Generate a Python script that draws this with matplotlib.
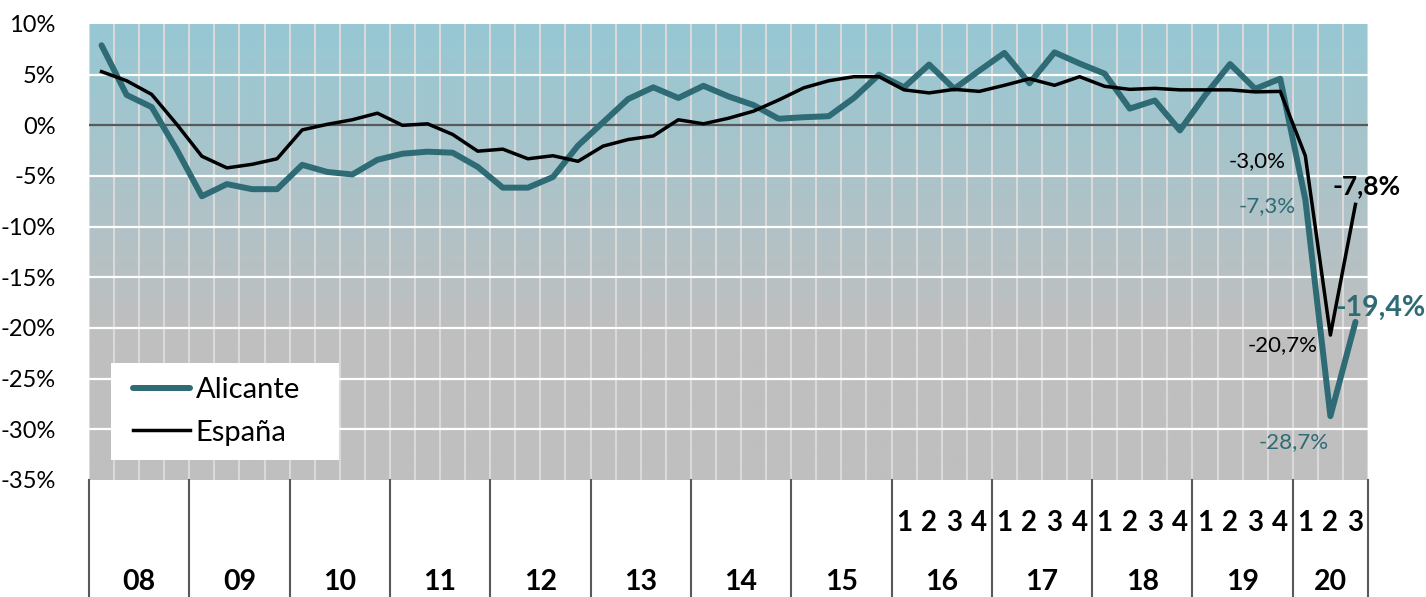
import numpy as np
import matplotlib
matplotlib.use('Agg')
from matplotlib import pyplot as plt
from matplotlib import transforms
from matplotlib.patches import Rectangle

plt.rcParams['font.family'] = ['Lato', 'DejaVu Sans']

# data (quarterly, 2008 Q1 - 2020 Q3), % change
years = ['08', '09', '10', '11', '12', '13', '14', '15', '16', '17', '18', '19', '20']
quarters_per_year = [4, 4, 4, 4, 4, 4, 4, 4, 4, 4, 4, 4, 3]
show_quarter_numbers = ['16', '17', '18', '19', '20']

alicante = [7.9, 3.0, 1.8, -2.4,
            -7.0, -5.8, -6.3, -6.3,
            -3.9, -4.6, -4.85, -3.4,
            -2.8, -2.6, -2.7, -4.1,
            -6.15, -6.15, -5.1, -2.0,
            0.3, 2.6, 3.75, 2.7,
            3.9, 2.85, 2.0, 0.65,
            0.8, 0.9, 2.7, 5.0,
            3.75, 6.0, 3.6, 5.4,
            7.15, 4.15, 7.2, 6.1,
            5.1, 1.65, 2.45, -0.5,
            2.95, 6.05, 3.6, 4.6,
            -7.3, -28.7, -19.4]

espana = [5.3, 4.4, 3.05, 0.1,
          -3.05, -4.2, -3.85, -3.3,
          -0.45, 0.1, 0.55, 1.2,
          0.0, 0.15, -0.9, -2.55,
          -2.35, -3.3, -3.0, -3.55,
          -2.05, -1.4, -1.05, 0.55,
          0.15, 0.7, 1.4, 2.5,
          3.7, 4.4, 4.8, 4.8,
          3.5, 3.2, 3.55, 3.35,
          3.95, 4.6, 3.95, 4.8,
          3.85, 3.55, 3.65, 3.5,
          3.5, 3.5, 3.3, 3.35,
          -3.0, -20.7, -7.8]

teal = '#2E6B75'
n = len(alicante)
x = np.arange(n)

fig = plt.figure(figsize=(14.26, 5.97), dpi=100)
ax = fig.add_axes([89 / 1426, 117 / 597, 1279 / 1426, 456 / 597])
ymin, ymax = -35, 10

# background gradient: blue-teal at top fading to gray
yy = np.linspace(ymax, ymin, 300)
top = np.array([150, 200, 212]) / 255
bot = np.array([191, 191, 191]) / 255
t = np.clip((ymax - yy) / 30.0, 0, 1)[:, None]
grad = top * (1 - t) + bot * t
ax.imshow(grad[:, None, :], extent=[-0.5, n - 0.5, ymin, ymax], aspect='auto', zorder=0)

# grid
for k in range(n + 1):
    ax.axvline(k - 0.5, color='#D9D9D9', lw=1.5, zorder=1)
for v in range(ymin, ymax + 1, 5):
    if v == 0:
        ax.axhline(v, color='#595959', lw=1.6, zorder=2)
    elif v != ymin and v != ymax:
        ax.axhline(v, color='white', lw=1.6, zorder=1)

ax.plot(x, alicante, color=teal, lw=4.3, solid_capstyle='round', solid_joinstyle='round',
        zorder=3, label='Alicante')
ax.plot(x, espana, color='black', lw=2.5, solid_joinstyle='round', zorder=4, label='España')

ax.set_xlim(-0.5, n - 0.5)
ax.set_ylim(ymin, ymax)
ax.set_xticks([])
ax.set_yticks(range(ymin, ymax + 1, 5))
ax.set_yticklabels([f'{v}%' for v in range(ymin, ymax + 1, 5)], fontsize=17)
ax.tick_params(axis='y', length=0, pad=24)
for s in ax.spines.values():
    s.set_visible(False)

# bottom category axis (two levels)
trans = transforms.blended_transform_factory(ax.transData, ax.transAxes)
start = 0
for yr, nq in zip(years, quarters_per_year):
    ax.plot([start - 0.5, start - 0.5], [0, -0.26], transform=trans, color='#595959',
            lw=1.5, clip_on=False)
    ax.text(start + (nq - 1) / 2, -0.224, yr, transform=trans, ha='center', va='center',
            fontsize=20.5, fontweight='bold')
    if yr in show_quarter_numbers:
        for q in range(nq):
            ax.text(start + q, -0.094, str(q + 1), transform=trans, ha='center', va='center',
                    fontsize=20, fontweight='bold')
    start += nq
ax.plot([start - 0.5, start - 0.5], [0, -0.26], transform=trans, color='#595959',
        lw=1.5, clip_on=False)

# value labels for 2020
i1, i2, i3 = n - 3, n - 2, n - 1
ax.annotate('-3,0%', (i1, espana[i1]), xytext=(-20, -5), textcoords='offset pixels',
            ha='right', va='center', fontsize=16, color='black')
ax.annotate('-7,3%', (i1, alicante[i1]), xytext=(-10, -7), textcoords='offset pixels',
            ha='right', va='center', fontsize=16, color=teal)
ax.annotate('-7,8%', (i3, espana[i3]), xytext=(11, 18), textcoords='offset pixels',
            ha='center', va='center', fontsize=19, fontweight='bold', color='black')
ax.annotate('-19,4%', (i3, alicante[i3]), xytext=(25, 14), textcoords='offset pixels',
            ha='center', va='center', fontsize=20.5, fontweight='bold', color=teal)
ax.annotate('-20,7%', (i2, espana[i2]), xytext=(-13, -10), textcoords='offset pixels',
            ha='right', va='center', fontsize=16, color='black')
ax.annotate('-28,7%', (i2, alicante[i2]), xytext=(-2, -26), textcoords='offset pixels',
            ha='right', va='center', fontsize=16, color=teal)

# legend on its own white box
ax.add_patch(Rectangle((22 / 1279, 20 / 456), 228 / 1279, 97 / 456, transform=ax.transAxes,
                       facecolor='white', edgecolor='none', zorder=5))
leg = ax.legend(loc='center left', bbox_to_anchor=(44 / 1279, 68.5 / 456), fontsize=21,
                frameon=False, borderaxespad=0, borderpad=0, handlelength=1.95,
                handletextpad=0.2, labelspacing=0.55)
leg.set_zorder(6)

fig.savefig('out.png', dpi=100)
